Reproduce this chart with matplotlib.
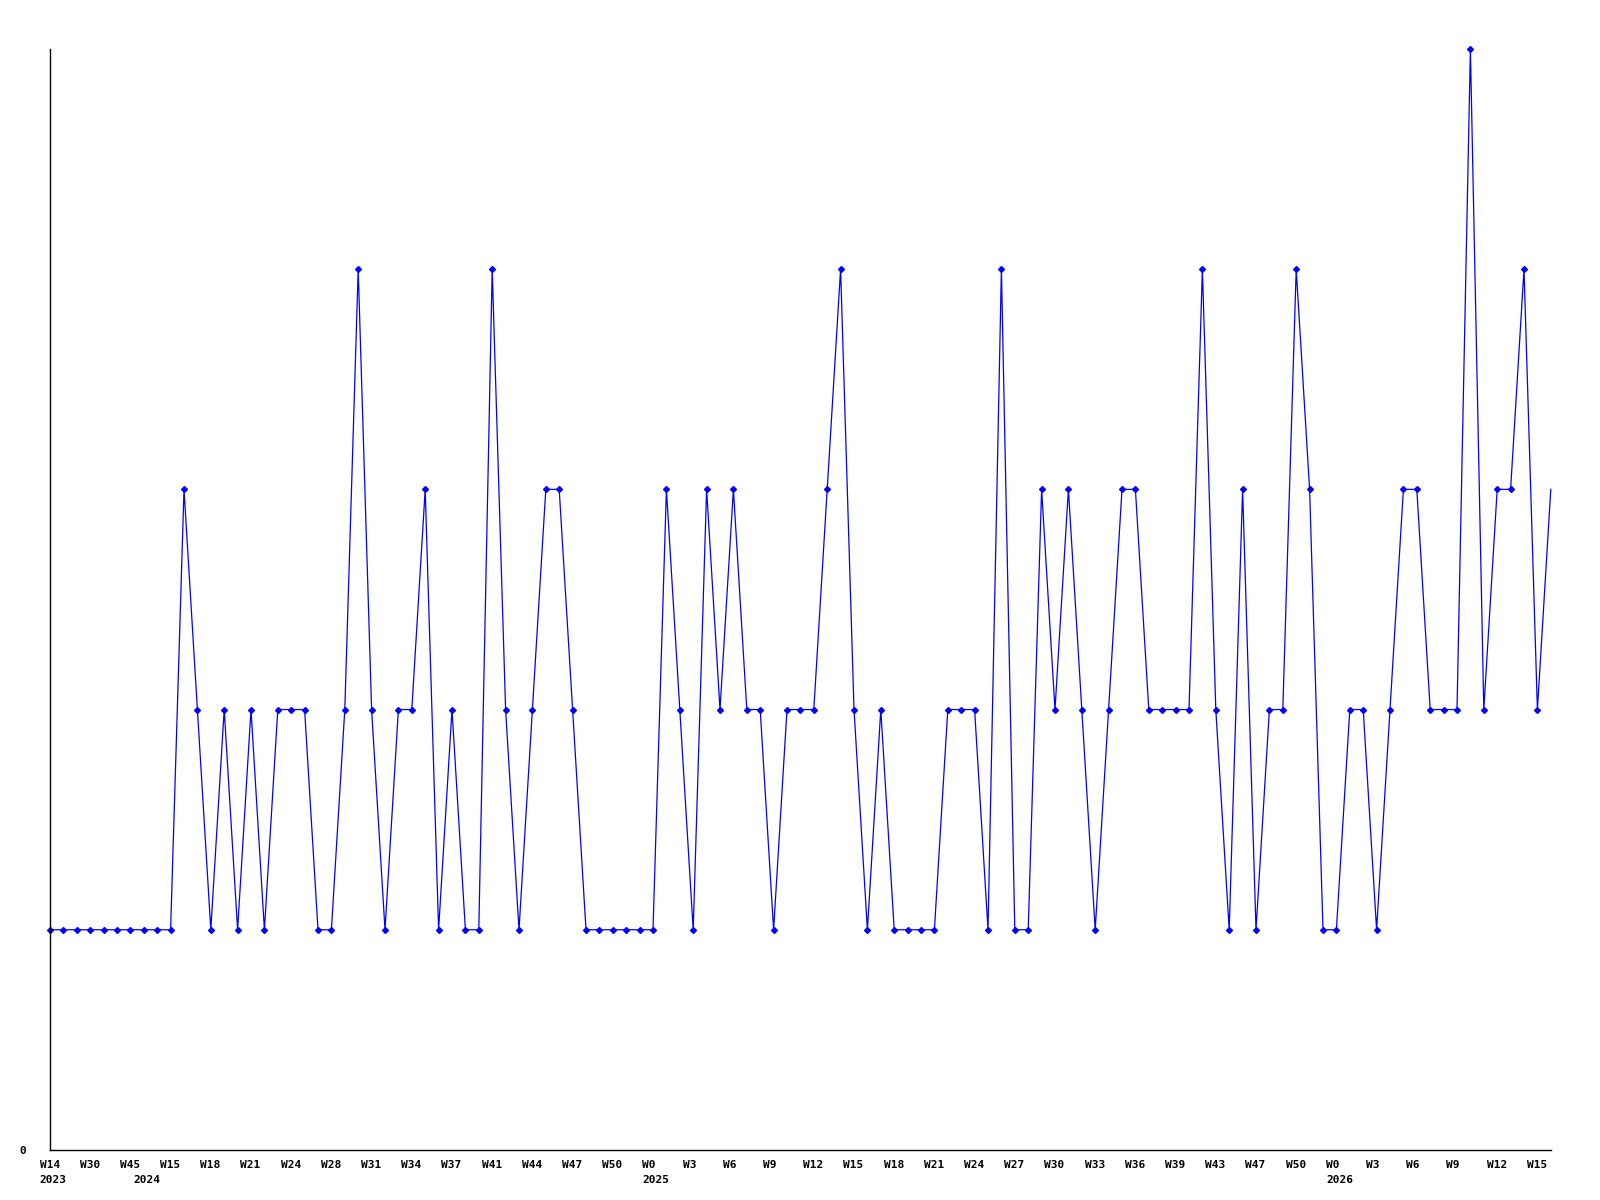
import matplotlib
matplotlib.use("Agg")
import matplotlib.pyplot as plt
import matplotlib.transforms as mtransforms
import numpy as np

# weekly counts
values = [1, 1, 1, 1, 1, 1, 1, 1, 1, 1,
          3, 2, 1, 2, 1, 2, 1, 2, 2, 2,
          1, 1, 2, 4, 2, 1, 2, 2, 3, 1,
          2, 1, 1, 4, 2, 1, 2, 3, 3, 2,
          1, 1, 1, 1, 1, 1, 3, 2, 1, 3,
          2, 3, 2, 2, 1, 2, 2, 2, 3, 4,
          2, 1, 2, 1, 1, 1, 1, 2, 2, 2,
          1, 4, 1, 1, 3, 2, 3, 2, 1, 2,
          3, 3, 2, 2, 2, 2, 4, 2, 1, 3,
          1, 2, 2, 4, 3, 1, 1, 2, 2, 1,
          2, 3, 3, 2, 2, 2, 5, 2, 3, 3,
          4, 2, 3]

tick_labels = ["W14", "W30", "W45", "W15", "W18", "W21", "W24", "W28",
               "W31", "W34", "W37", "W41", "W44", "W47", "W50", "W0", "W3",
               "W6", "W9", "W12", "W15", "W18", "W21", "W24", "W27", "W30", "W33",
               "W36", "W39", "W43", "W47", "W50", "W0", "W3", "W6", "W9",
               "W12", "W15"]

years = ["2023", "2024", "2025", "2026"]
year_idx = [0, 7, 45, 96]

x = np.arange(len(values))

fig = plt.figure(figsize=(16, 12), dpi=100)
ax = fig.add_axes([0.03125, 0.0417, 0.938, 0.9175])

ax.plot(x, values, color="#0000ff", linewidth=0.9, marker="D", markersize=3,
        markevery=list(range(len(values) - 1)), clip_on=False)

ax.set_xlim(0, len(values) - 1)
ax.set_ylim(0, 5)

font = dict(fontfamily="DejaVu Sans Mono", fontweight="bold", fontsize=8)

# x labels drawn as text, left edge a little before each tick
ax.set_xticks(x[::3])
ax.set_xticklabels([])
ax.tick_params(axis="x", length=0)
week_shift = mtransforms.ScaledTranslation(-10.5 / 100, -10 / 100, fig.dpi_scale_trans)
for lab, i in zip(tick_labels, x[::3]):
    ax.text(i, 0, lab, transform=ax.get_xaxis_transform() + week_shift,
            ha="left", va="top", clip_on=False, **font)

# year labels under the first week of each year
year_shift = mtransforms.ScaledTranslation(-10.5 / 100, -25 / 100, fig.dpi_scale_trans)
for yr, i in zip(years, year_idx):
    ax.text(i, 0, yr, transform=ax.get_xaxis_transform() + year_shift,
            ha="left", va="top", clip_on=False, **font)

ax.set_yticks([0])
ax.set_yticklabels(["0"], **font)
ax.tick_params(axis="y", length=0, pad=17)

ax.spines["top"].set_visible(False)
ax.spines["right"].set_visible(False)
ax.spines["left"].set_linewidth(1)
ax.spines["bottom"].set_linewidth(1)

fig.savefig("out.png", dpi=100)
